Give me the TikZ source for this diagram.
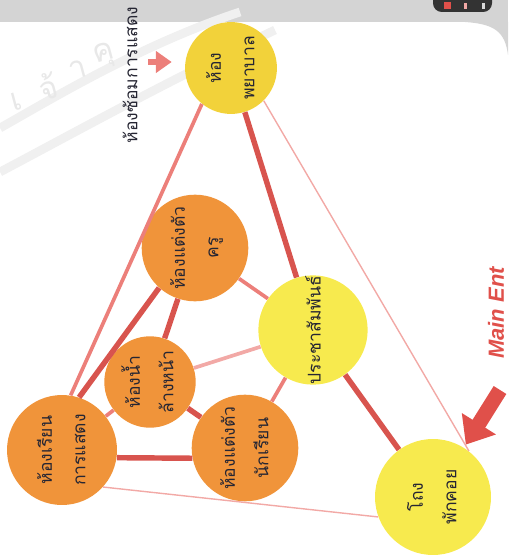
\documentclass[tikz,border=0pt]{standalone}
\usepackage{fontspec}
\setsansfont{Liberation Sans}
\newfontfamily\thai[Script=Thai]{Loma}
\usetikzlibrary{arrows.meta}

\definecolor{ink}{HTML}{262633}
\definecolor{lemon}{HTML}{F7EA4E}
\definecolor{gold}{HTML}{F2D23A}
\definecolor{tangerine}{HTML}{F0943A}
\definecolor{brick}{HTML}{D8544E}
\definecolor{rose}{HTML}{EC7F7A}
\definecolor{blush}{HTML}{F2A9A6}
\definecolor{signal}{HTML}{E0504A}

% two rotated lines of a room name
\newcommand{\room}[2]{\rotatebox{90}{\begin{tabular}{@{}c@{}}#1\\#2\end{tabular}}}

\begin{document}
\begin{tikzpicture}[x=0.02cm, y=-0.02cm,
    room/.style={circle, inner sep=0pt, text=ink, font=\thai\fontsize{10}{19}\selectfont},
    sunroom/.style={room, fill=lemon},
    emberroom/.style={room, fill=tangerine},
    heavyline/.style={draw=brick, line width=3.1pt},
    midline/.style={draw=rose, line width=2.1pt},
    hairline/.style={draw=blush, line width=0.8pt},
    cuearrow/.style={draw=rose, line width=3.5pt, -{Triangle[length=9pt, width=12pt]}, shorten >=0.26cm},
    entryarrow/.style={draw=signal, line width=8.5pt, -{Triangle[length=14pt, width=22pt]}, shorten >=2pt},
    ring/.style={draw=black!6, line width=5pt},
    sealchar/.style={text=black!9, font=\thai\fontsize{18}{18}\selectfont, rotate=15, inner sep=0pt}
]
    \useasboundingbox (0,0) rectangle (508,560);

    % page header and corner
    \fill[black!17] (0,0) rectangle (508,22);
    \fill[black!17] (465,22) -- (508,22) -- (508,55) .. controls (505,32) and (495,24) .. (465,22) -- cycle;
    \fill[black!80, rounded corners=5pt] (433,-10) rectangle (492,12);
    \fill[signal] (444,2) rectangle (451,9);
    \fill[blush] (464,3) rectangle (467,9);
    \fill[white!85!black] (482,3) rectangle (485,9);

    % watermark
    \draw[ring] (0,128) .. controls (50,100) and (140,45) .. (240,12);
    \draw[ring] (0,172) .. controls (70,135) and (160,85) .. (275,30);
    \node[sealchar] (seal1) at (16,102) {เ};
    \node[sealchar] (seal2) at (48,86) {จ้};
    \node[sealchar] (seal3) at (78,70) {า};
    \node[sealchar] (seal4) at (104,56) {คุ};

    % rooms
    \node[sunroom, fill=gold, minimum size=1.44cm] (infirmary) at (231,68) {\room{ห้อง}{พยาบาล}};
    \node[emberroom, minimum size=2.04cm] (teacher) at (195,248) {\room{ห้องแต่งตัว}{ครู}};
    \node[sunroom, minimum size=1.88cm] (pr) at (313,330) {\rotatebox{90}{ประชาสัมพันธ์}};
    \node[emberroom, minimum size=1.48cm] (toilet) at (150,382) {\room{ห้องน้ำ}{ล้างหน้า}};
    \node[emberroom, minimum size=2.0cm] (student) at (245,448) {\room{ห้องแต่งตัว}{นักเรียน}};
    \node[emberroom, minimum size=2.2cm] (actclass) at (62,450) {\room{ห้องเรียน}{การแสดง}};
    \node[sunroom, minimum size=2.32cm] (lobby) at (433,497) {\room{โถง}{พักคอย}};

    % links between rooms
    \draw[heavyline] (infirmary) -- (pr);
    \draw[heavyline] (pr) -- (lobby);
    \draw[heavyline] (teacher.228) -- (actclass.72);
    \draw[heavyline] (teacher) -- (toilet);
    \draw[heavyline] (toilet) -- (student);
    \draw[heavyline] (actclass.352) -- (student.191);
    \draw[midline] (infirmary.231) -- (actclass.81);
    \draw[midline] (teacher) -- (pr);
    \draw[midline, draw=blush] (toilet) -- (pr);
    \draw[midline] (toilet) -- (actclass);
    \draw[midline] (pr) -- (student);
    \draw[hairline] (infirmary.315) -- (lobby.52);
    \draw[hairline] (actclass.318) -- (lobby.200);

    % rehearsal room pointer
    \node[text=ink, font=\thai\fontsize{10}{12}\selectfont] (rehearsal) at (130,75) {\rotatebox{90}{ห้องซ้อมการแสดง}};
    \coordinate (cue) at (148,62);
    \draw[cuearrow] (cue) -- (cue -| infirmary.west);

    % main entrance
    \node[text=signal, font=\sffamily\itshape\bfseries\fontsize{12.5}{14}\selectfont] (entrylabel) at (496,313) {\rotatebox{90}{Main Ent}};
    \coordinate (entry) at (500,390);
    \draw[entryarrow] (entry) -- (lobby);
\end{tikzpicture}
\end{document}
